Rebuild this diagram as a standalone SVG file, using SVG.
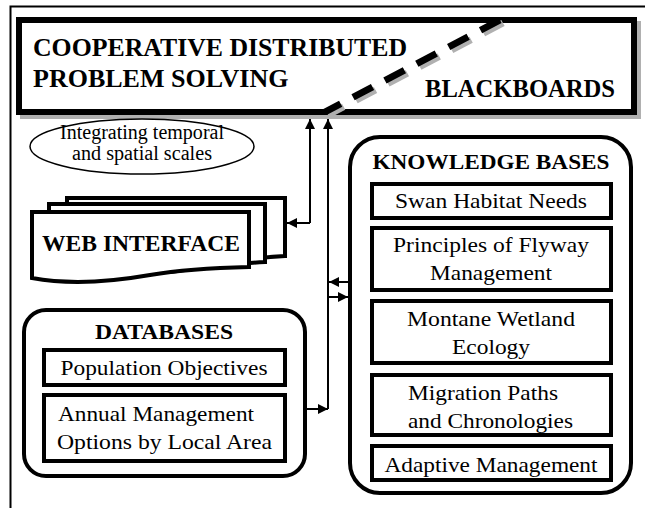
<svg xmlns="http://www.w3.org/2000/svg" width="645" height="508" viewBox="0 0 645 508">
<style>
text{font-family:"Liberation Serif","Times New Roman",serif;fill:#000}
.b{font-weight:bold}
.r{font-size:21.5px}
.box{fill:#fff;stroke:#000;stroke-width:4}
.doc{fill:#fff;stroke:#000;stroke-width:4;stroke-linejoin:miter}
.con{fill:none;stroke:#000;stroke-width:2}
</style>
<defs>
<marker id="ah" viewBox="0 0 10 10" refX="10" refY="5" markerWidth="10" markerHeight="10" markerUnits="userSpaceOnUse" orient="auto">
<path d="M0,0 L10,5 L0,10 z" fill="#000"/>
</marker>
</defs>
<rect width="645" height="508" fill="#fff"/>
<g id="frame">
<path d="M10.5,508 V6.5 H645" fill="none" stroke="#000" stroke-width="2"/>
</g>
<g id="blackboard">
<rect x="23" y="24" width="615" height="92" fill="none" stroke="#b0b0b0" stroke-width="6"/>
<rect x="19" y="20" width="615" height="92" fill="#fff" stroke="#000" stroke-width="6"/>
<line x1="503" y1="23" x2="328" y2="115" stroke="#b0b0b0" stroke-width="7" stroke-dasharray="22 14"/>
<line x1="500" y1="20" x2="325" y2="112" stroke="#000" stroke-width="7" stroke-dasharray="22 14"/>
<text class="b" x="33" y="56" font-size="26" textLength="374" lengthAdjust="spacingAndGlyphs">COOPERATIVE DISTRIBUTED</text>
<text class="b" x="33" y="87" font-size="26">PROBLEM SOLVING</text>
<text class="b" x="425" y="97" font-size="25" textLength="190" lengthAdjust="spacingAndGlyphs">BLACKBOARDS</text>
</g>
<g id="scales">
<ellipse cx="142" cy="146.5" rx="112" ry="27.5" fill="#fff" stroke="#000" stroke-width="1.5"/>
<text x="142" y="139" font-size="20" text-anchor="middle" textLength="164" lengthAdjust="spacingAndGlyphs">Integrating temporal</text>
<text x="142" y="160" font-size="20" text-anchor="middle" textLength="140" lengthAdjust="spacingAndGlyphs">and spatial scales</text>
</g>
<g id="web">
<path class="doc" d="M67,198 H285 V256 C250,258 220,262 190,266 L67,266 Z"/>
<path class="doc" d="M49,204 H265 V262 C230,264 200,268 170,272 L49,272 Z"/>
<path class="doc" d="M32,212 H249 V267 C210,268 180,270 150,275 C110,282 70,285 32,278 Z"/>
<text class="b" x="42" y="251" font-size="24" textLength="198" lengthAdjust="spacingAndGlyphs">WEB INTERFACE</text>
</g>
<g id="databases">
<rect class="box" x="24" y="310" width="281" height="166" rx="22"/>
<text class="b" x="164" y="339" font-size="22" text-anchor="middle" textLength="138" lengthAdjust="spacingAndGlyphs">DATABASES</text>
<rect class="box" x="44" y="350" width="241" height="35"/>
<text class="r" x="164" y="375" text-anchor="middle" textLength="207" lengthAdjust="spacingAndGlyphs">Population Objectives</text>
<rect class="box" x="44" y="395" width="241" height="66"/>
<text class="r" x="58" y="421" textLength="196" lengthAdjust="spacingAndGlyphs">Annual Management</text>
<text class="r" x="57" y="449" textLength="215" lengthAdjust="spacingAndGlyphs">Options by Local Area</text>
</g>
<g id="knowledge">
<rect class="box" x="350" y="137" width="281" height="356" rx="30"/>
<text class="b" x="491" y="169" font-size="22" text-anchor="middle" textLength="237" lengthAdjust="spacingAndGlyphs">KNOWLEDGE BASES</text>
<rect class="box" x="372" y="184" width="239" height="34"/>
<text class="r" x="491" y="208" text-anchor="middle" textLength="192" lengthAdjust="spacingAndGlyphs">Swan Habitat Needs</text>
<rect class="box" x="372" y="228" width="239" height="62"/>
<text class="r" x="491" y="252" text-anchor="middle" textLength="196" lengthAdjust="spacingAndGlyphs">Principles of Flyway</text>
<text class="r" x="491" y="280" text-anchor="middle" textLength="122" lengthAdjust="spacingAndGlyphs">Management</text>
<rect class="box" x="372" y="301" width="239" height="62"/>
<text class="r" x="491" y="326" text-anchor="middle" textLength="168" lengthAdjust="spacingAndGlyphs">Montane Wetland</text>
<text class="r" x="491" y="354" text-anchor="middle" textLength="78" lengthAdjust="spacingAndGlyphs">Ecology</text>
<rect class="box" x="372" y="375" width="239" height="60"/>
<text class="r" x="408" y="400" textLength="150" lengthAdjust="spacingAndGlyphs">Migration Paths</text>
<text class="r" x="408" y="428" textLength="165" lengthAdjust="spacingAndGlyphs">and Chronologies</text>
<rect class="box" x="372" y="446" width="239" height="34"/>
<text class="r" x="491" y="472" text-anchor="middle" textLength="213" lengthAdjust="spacingAndGlyphs">Adaptive Management</text>
</g>
<g id="connectors">
<path class="con" d="M310,223 V119" marker-end="url(#ah)"/>
<path class="con" d="M310,223 H287" marker-end="url(#ah)"/>
<path class="con" d="M328,409 V119" marker-end="url(#ah)"/>
<path class="con" d="M307,409 H328" marker-end="url(#ah)"/>
<path class="con" d="M348,282 H329" marker-end="url(#ah)"/>
<path class="con" d="M328,297 H348" marker-end="url(#ah)"/>
</g>
</svg>
